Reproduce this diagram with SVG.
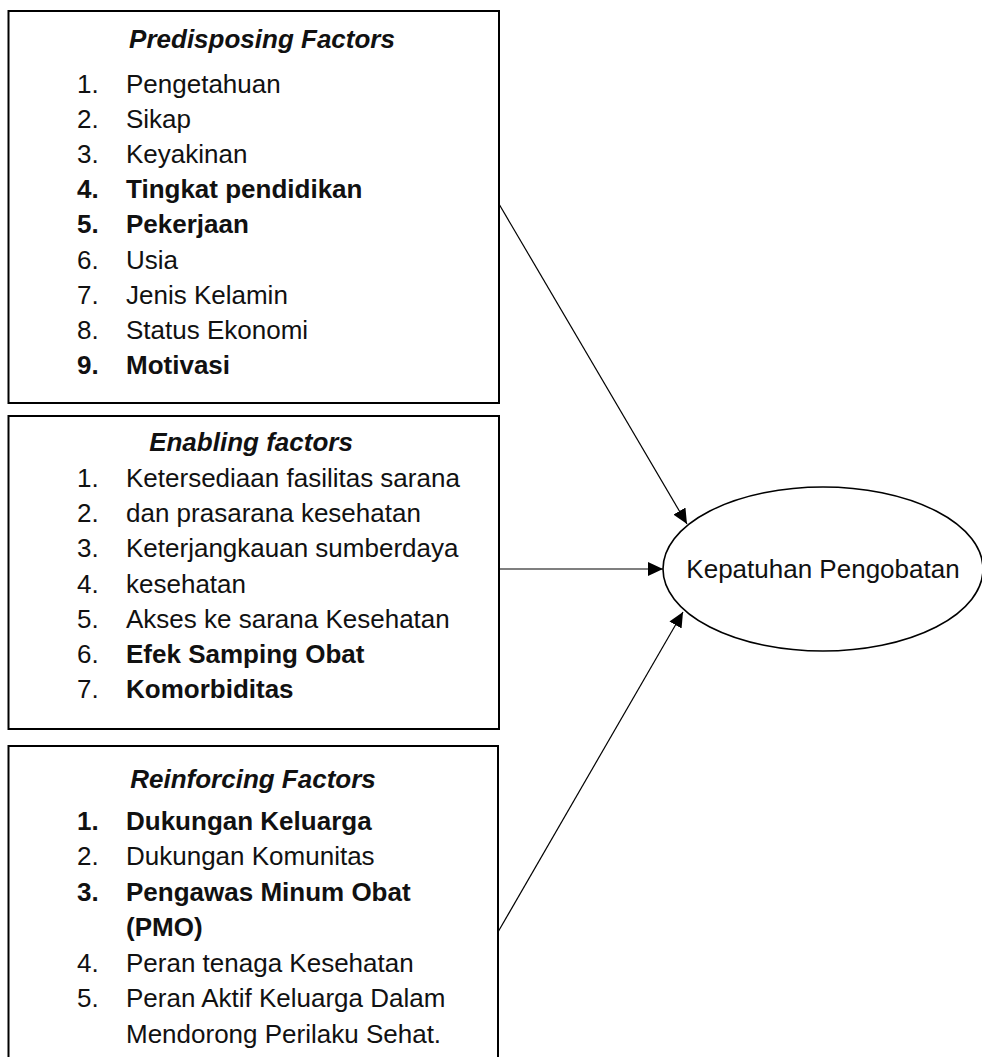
<svg xmlns="http://www.w3.org/2000/svg" width="982" height="1057" viewBox="0 0 982 1057">
<defs>
<style>
.box{fill:#fff;stroke:#000;stroke-width:2}
.t{font-family:"Liberation Sans",Arial,sans-serif;font-size:26px;fill:#111}
.b{font-weight:bold}
.h{font-weight:bold;font-style:italic;text-anchor:middle}
.c{text-anchor:middle}
.conn{stroke:#000;stroke-width:1.2;fill:none;marker-end:url(#ah)}
</style>
<marker id="ah" markerUnits="userSpaceOnUse" markerWidth="16" markerHeight="14" refX="15" refY="7" orient="auto">
<path d="M0,0 L15,7 L0,14 z" fill="#000"/>
</marker>
</defs>
<rect width="982" height="1057" fill="#fff"/>

<g id="predisposing">
<rect class="box" x="8.5" y="11" width="490.5" height="392"/>
<g class="t">
<text class="h" x="262" y="48">Predisposing Factors</text>
<text x="77" y="92.5">1.</text><text x="126" y="92.5">Pengetahuan</text>
<text x="77" y="127.7">2.</text><text x="126" y="127.7">Sikap</text>
<text x="77" y="162.9">3.</text><text x="126" y="162.9">Keyakinan</text>
<text class="b" x="77" y="198.1">4.</text><text class="b" x="126" y="198.1">Tingkat pendidikan</text>
<text class="b" x="77" y="233.3">5.</text><text class="b" x="126" y="233.3">Pekerjaan</text>
<text x="77" y="268.5">6.</text><text x="126" y="268.5">Usia</text>
<text x="77" y="303.7">7.</text><text x="126" y="303.7">Jenis Kelamin</text>
<text x="77" y="338.9">8.</text><text x="126" y="338.9">Status Ekonomi</text>
<text class="b" x="77" y="374.1">9.</text><text class="b" x="126" y="374.1">Motivasi</text>
</g>
</g>

<g id="enabling">
<rect class="box" x="8.5" y="416" width="490.5" height="313"/>
<g class="t">
<text class="h" x="251" y="451">Enabling factors</text>
<text x="77" y="486.7">1.</text><text x="126" y="486.7">Ketersediaan fasilitas sarana</text>
<text x="77" y="522">2.</text><text x="126" y="522">dan prasarana kesehatan</text>
<text x="77" y="557.2">3.</text><text x="126" y="557.2">Keterjangkauan sumberdaya</text>
<text x="77" y="592.5">4.</text><text x="126" y="592.5">kesehatan</text>
<text x="77" y="627.7">5.</text><text x="126" y="627.7">Akses ke sarana Kesehatan</text>
<text x="77" y="663">6.</text><text class="b" x="126" y="663">Efek Samping Obat</text>
<text x="77" y="698.2">7.</text><text class="b" x="126" y="698.2">Komorbiditas</text>
</g>
</g>

<g id="reinforcing">
<rect class="box" x="8.5" y="746" width="489.5" height="330"/>
<g class="t">
<text class="h" x="253" y="788">Reinforcing Factors</text>
<text class="b" x="77" y="829.5">1.</text><text class="b" x="126" y="829.5">Dukungan Keluarga</text>
<text x="77" y="865">2.</text><text x="126" y="865">Dukungan Komunitas</text>
<text class="b" x="77" y="900.5">3.</text><text class="b" x="126" y="900.5">Pengawas Minum Obat</text>
<text class="b" x="126" y="936">(PMO)</text>
<text x="77" y="971.5">4.</text><text x="126" y="971.5">Peran tenaga Kesehatan</text>
<text x="77" y="1007">5.</text><text x="126" y="1007">Peran Aktif Keluarga Dalam</text>
<text x="126" y="1042.5">Mendorong Perilaku Sehat.</text>
</g>
</g>

<g id="kepatuhan">
<ellipse cx="823" cy="569" rx="160" ry="82" fill="#fff" stroke="#000" stroke-width="1.6"/>
<text class="t c" x="823" y="578">Kepatuhan Pengobatan</text>
</g>

<g id="connectors">
<line class="conn" x1="499" y1="204" x2="687" y2="524"/>
<line class="conn" x1="499" y1="569" x2="663" y2="569"/>
<line class="conn" x1="498" y1="932" x2="683" y2="612"/>
</g>
</svg>
